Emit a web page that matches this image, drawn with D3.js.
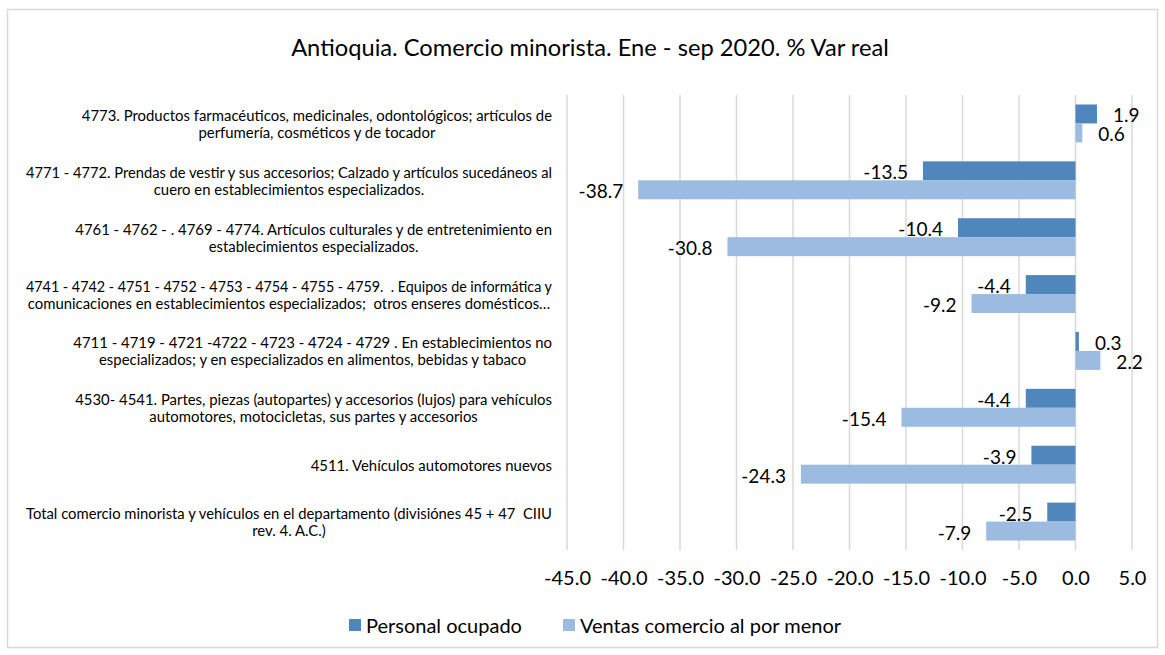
<!DOCTYPE html>
<html><head><meta charset="utf-8">
<script src="https://cdn.jsdelivr.net/npm/d3@7"></script>
<style>body{margin:0;background:#fff;}text{font-family:Lato,"Open Sans",sans-serif;fill:#000;}</style>
</head><body><svg id="c" width="1165" height="655"></svg>
<script>
const title = "Antioquia. Comercio minorista. Ene - sep 2020. % Var real";
const categories = [
  ["4773. Productos farmacéuticos, medicinales, odontológicos; artículos de","perfumería, cosméticos y de tocador"],
  ["4771 - 4772. Prendas de vestir y sus accesorios; Calzado y artículos sucedáneos al","cuero en establecimientos especializados."],
  ["4761 - 4762 - . 4769 - 4774. Artículos culturales y de entretenimiento en","establecimientos especializados."],
  ["4741 - 4742 - 4751 - 4752 - 4753 - 4754 - 4755 - 4759.  . Equipos de informática y","comunicaciones en establecimientos especializados;  otros enseres domésticos…"],
  ["4711 - 4719 - 4721 -4722 - 4723 - 4724 - 4729 . En establecimientos no","especializados; y en especializados en alimentos, bebidas y tabaco"],
  ["4530- 4541. Partes, piezas (autopartes) y accesorios (lujos) para vehículos","automotores, motocicletas, sus partes y accesorios"],
  ["4511. Vehículos automotores nuevos"],
  ["Total comercio minorista y vehículos en el departamento (divisiónes 45 + 47  CIIU","rev. 4. A.C.)"]
];
const seriesNames = ["Personal ocupado","Ventas comercio al por menor"];
const personal = [1.9, -13.5, -10.4, -4.4, 0.3, -4.4, -3.9, -2.5];
const ventas = [0.6, -38.7, -30.8, -9.2, 2.2, -15.4, -24.3, -7.9];
const tickValues = [-45,-40,-35,-30,-25,-20,-15,-10,-5,0,5];
const colors = ["#4f87bd","#9bbbe0"];
const fmt = d => d.toFixed(1);

const svg = d3.select("#c");
svg.append("rect").attr("x",7.5).attr("y",9.5).attr("width",1150).attr("height",638)
  .attr("fill","#fff").attr("stroke","#d9d9d9").attr("stroke-width",1.5);

svg.append("text").attr("x",590).attr("y",47).attr("text-anchor","middle")
  .attr("dominant-baseline","central").style("font-size","23.7px").text(title);

const x = d3.scaleLinear().domain([-45,5]).range([567,1132]);
const y = d3.scaleBand().domain(d3.range(categories.length)).range([95,550]);
const sub = d3.scaleBand().domain([0,1]).range([0,y.bandwidth()]).paddingOuter(0.5).paddingInner(0);

svg.append("g").selectAll("line").data(tickValues).join("line")
  .attr("x1",d=>x(d)).attr("x2",d=>x(d)).attr("y1",95).attr("y2",550)
  .attr("stroke","#d9d9d9").attr("stroke-width",1.5);

const ax = svg.append("g").attr("transform","translate(0,577)")
  .call(d3.axisBottom(x).tickValues(tickValues).tickFormat(fmt).tickSize(0).tickPadding(0));
ax.select(".domain").remove();
ax.selectAll("text").attr("dy",null).attr("dominant-baseline","central")
  .style("font-size","20px").style("font-family","Lato,sans-serif").attr("fill","#000");

const data = [personal, ventas];
data.forEach((vals,s)=>{
  const g = svg.append("g");
  g.selectAll("rect").data(vals).join("rect")
    .attr("x",d=>x(Math.min(0,d))).attr("width",d=>Math.abs(x(d)-x(0)))
    .attr("y",(d,i)=>y(i)+sub(s)).attr("height",sub.bandwidth())
    .attr("fill",colors[s]);
  g.selectAll("text").data(vals).join("text")
    .attr("x",d=> d<0 ? x(d)-15 : x(d)+16)
    .attr("text-anchor",d=> d<0 ? "end":"start")
    .attr("y",(d,i)=>y(i)+sub(s)+sub.bandwidth()/2+1)
    .attr("dominant-baseline","central")
    .style("font-size","19px").text(fmt);
});

const maxW = 526;
const catG = svg.append("g");
categories.forEach((lines,i)=>{
  const t = catG.append("text").style("font-size","14.9px").style("white-space","pre")
    .attr("xml:space","preserve").attr("text-anchor","middle");
  const lh = 17;
  const cy = y(i)+y.bandwidth()/2;
  const spans = lines.map((l,j)=> t.append("tspan").attr("y", cy + (j-(lines.length-1)/2)*lh).attr("dominant-baseline","central").text(l));
  const widths = spans.map(s=>s.node().getComputedTextLength());
  const w = Math.min(maxW, d3.max(widths));
  spans.forEach((s,j)=>{
    s.attr("x", 552 - w/2);
    if (widths[j] > maxW) s.attr("textLength", maxW).attr("lengthAdjust","spacingAndGlyphs");
  });
});

const leg = [{x:349,tx:366},{x:563,tx:580}];
seriesNames.forEach((n,i)=>{
  svg.append("rect").attr("x",leg[i].x).attr("y",619).attr("width",12).attr("height",12).attr("fill",colors[i]);
  svg.append("text").attr("x",leg[i].tx).attr("y",625).attr("dominant-baseline","central")
    .style("font-size","20px").text(n);
});
</script></body></html>
